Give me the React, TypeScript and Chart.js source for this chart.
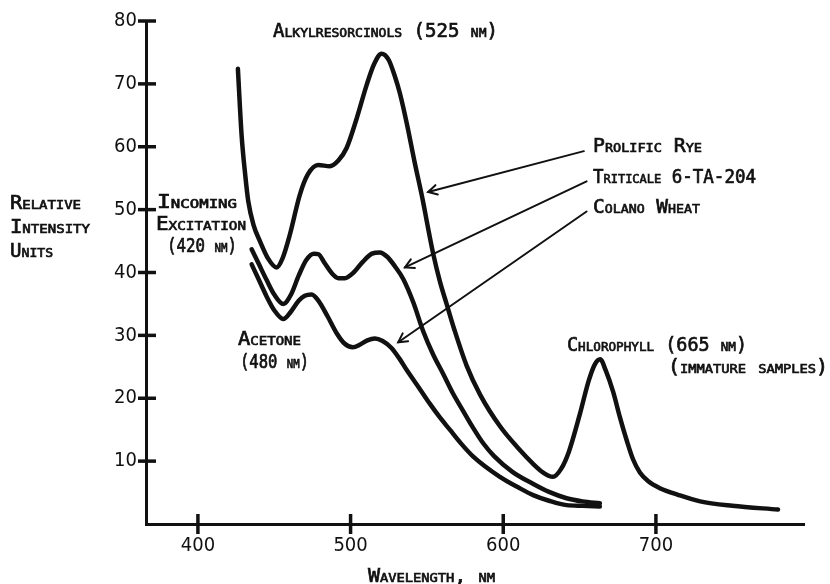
import React, { useEffect, useRef } from "react";
import { Chart, registerables } from "chart.js";

Chart.register(...registerables);

// ---- data ----
const xTickValues = [400, 500, 600, 700];
const yTickValues = [10, 20, 30, 40, 50, 60, 70, 80];

const ryeWavelength = [426.2, 428.6, 431, 433, 436.5, 440.6, 446, 451.5, 455.5, 460.2, 466.8, 472, 478.8, 486.4, 492, 497.4, 504, 510.5, 515.5, 520.3, 525, 529, 532.3, 537, 542, 547.3, 549.8, 554.1, 558.5, 562.9, 568, 576, 585, 598, 610, 619.4, 626, 632.5, 638, 643, 650, 656, 660, 663.5, 667, 672, 676.4, 681, 685, 689.5, 695, 702.6, 715, 729, 750, 780];
const ryeIntensity = [72.4, 61.9, 55.5, 51.3, 47.5, 45, 42.2, 40.8, 42.3, 46, 52.4, 55.6, 57.1, 56.9, 57.8, 59.8, 64.5, 69.8, 73.2, 74.8, 73.8, 71.2, 68.5, 63.5, 57.5, 51.5, 48.3, 43, 38.6, 35, 30.9, 25.2, 20.5, 15.5, 12, 9.6, 8.2, 7.5, 8.8, 11.5, 17.3, 22.8, 25.4, 26.2, 24.5, 21, 17, 13.2, 10.3, 8.2, 6.8, 5.7, 4.6, 3.6, 2.9, 2.3];

const triticaleWavelength = [435.2, 440, 445, 450, 455.9, 461, 466, 471, 476, 479, 483, 488, 492, 496.3, 502, 508, 514, 519.2, 524, 529, 534.4, 541, 547.5, 554, 560.6, 567, 573.7, 580, 587, 594, 606, 619.4, 630, 641.5, 652, 663.3];
const triticaleIntensity = [43.7, 41.3, 38.8, 36.5, 35.0, 36.5, 39.5, 42, 43, 42.9, 41.5, 39.8, 39.1, 39.1, 40, 41.7, 43, 43.2, 42.5, 41, 39, 35.3, 30.7, 27, 23.9, 20.8, 18, 15.4, 12.8, 10.8, 8.3, 6.4, 5.1, 4.1, 3.6, 3.3];

const colanoWavelength = [435.2, 440, 445, 450, 455.9, 461, 466, 470, 474.5, 479, 485, 491, 496, 501.5, 506, 511, 515.9, 521, 526.8, 532, 537, 545, 552, 558, 565, 572, 580, 597.8, 610, 619.6, 630, 641.5, 652, 663.3];
const colanoIntensity = [41.3, 38.8, 36.2, 34, 32.6, 33.8, 35.5, 36.3, 36.5, 35.5, 33, 30.3, 28.7, 28.1, 28.5, 29.2, 29.5, 29.1, 28.0, 26.3, 24.4, 21.6, 19.1, 17.1, 15, 12.9, 10.8, 7.5, 5.8, 4.6, 3.7, 3.0, 2.9, 2.8];

const seriesNames = ["Prolific Rye", "Triticale 6-TA-204", "Colano Wheat"];

// arrows: label-end (data units) -> curve tip (data units)
const arrowFromWavelength = [652.8, 654.6, 654.6];
const arrowFromIntensity = [59.3, 54.5, 49.7];
const arrowToWavelength = [550.8, 535.6, 531.2];
const arrowToIntensity = [52.8, 40.8, 28.9];

// text annotations
const annotationTexts = [
  "Alkylresorcinols (525 nm)",
  "Prolific Rye",
  "Triticale 6-TA-204",
  "Colano Wheat",
  "Incoming",
  "Excitation",
  "(420 nm)",
  "Acetone",
  "(480 nm)",
  "Chlorophyll (665 nm)",
  "(immature samples)",
  "Relative",
  "Intensity",
  "Units",
  "Wavelength, nm",
];
// [left x, baseline y, target width] in canvas pixels
const annotationLayout: [number, number, number][] = [
  [273, 37, 225],
  [593, 152, 109],
  [593, 183, 163],
  [593, 213, 107],
  [157, 208, 80],
  [156, 230, 90],
  [167, 252, 70],
  [238, 345, 63],
  [240, 368, 69],
  [567, 351, 180],
  [668, 373, 160],
  [10, 209, 71],
  [10, 233, 80],
  [10, 257, 43],
  [368, 582, 127],
];

const INK = "#111";
const TEXT_FONT = '"DejaVu Sans Mono", "Liberation Mono", monospace';
const TICK_FONT = '"Liberation Sans Narrow", "DejaVu Sans Condensed", "Liberation Sans", sans-serif';

function drawSmallCaps(ctx: CanvasRenderingContext2D, text: string, x: number, y: number, targetW: number) {
  ctx.save();
  ctx.font = `small-caps 19px ${TEXT_FONT}`;
  try {
    (ctx as any).fontVariantCaps = "small-caps";
  } catch (e) {}
  ctx.textAlign = "left";
  ctx.textBaseline = "alphabetic";
  ctx.fillStyle = INK;
  ctx.strokeStyle = INK;
  ctx.lineWidth = 0.7;
  const w = ctx.measureText(text).width;
  const sx = w > 0 ? targetW / w : 1;
  ctx.translate(x, y);
  ctx.scale(sx, 1);
  ctx.fillText(text, 0, 0);
  ctx.strokeText(text, 0, 0);
  ctx.restore();
}

const decorPlugin = {
  id: "decor",
  afterDraw(chart: any) {
    const ctx: CanvasRenderingContext2D = chart.ctx;
    const xs = chart.scales.x;
    const ys = chart.scales.y;
    const area = chart.chartArea;
    ctx.save();
    ctx.strokeStyle = INK;
    ctx.lineCap = "butt";
    // crossing tick marks
    ctx.lineWidth = 3.5;
    xTickValues.forEach((v) => {
      const px = xs.getPixelForValue(v);
      ctx.beginPath();
      ctx.moveTo(px, area.bottom - 10);
      ctx.lineTo(px, area.bottom + 10);
      ctx.stroke();
    });
    yTickValues.forEach((v) => {
      const py = ys.getPixelForValue(v);
      ctx.beginPath();
      ctx.moveTo(area.left - 8, py);
      ctx.lineTo(area.left + 10, py);
      ctx.stroke();
    });
    // arrows
    ctx.lineWidth = 2;
    ctx.lineCap = "round";
    for (let i = 0; i < arrowFromWavelength.length; i++) {
      const x0 = xs.getPixelForValue(arrowFromWavelength[i]);
      const y0 = ys.getPixelForValue(arrowFromIntensity[i]);
      const x1 = xs.getPixelForValue(arrowToWavelength[i]);
      const y1 = ys.getPixelForValue(arrowToIntensity[i]);
      ctx.beginPath();
      ctx.moveTo(x0, y0);
      ctx.lineTo(x1, y1);
      ctx.stroke();
      const ang = Math.atan2(y0 - y1, x0 - x1);
      const len = 10;
      const spread = 0.5;
      ctx.beginPath();
      ctx.moveTo(x1 + len * Math.cos(ang - spread), y1 + len * Math.sin(ang - spread));
      ctx.lineTo(x1, y1);
      ctx.lineTo(x1 + len * Math.cos(ang + spread), y1 + len * Math.sin(ang + spread));
      ctx.stroke();
    }
    ctx.restore();
    // text
    annotationTexts.forEach((t, i) => {
      const [x, y, w] = annotationLayout[i];
      drawSmallCaps(ctx, t, x, y, w);
    });
  },
};

export default function App() {
  const ref = useRef<HTMLCanvasElement>(null);
  useEffect(() => {
    document.body.style.margin = "0";
    const mk = (wl: number[], v: number[]) => wl.map((w, i) => ({ x: w, y: v[i] }));
    const lineStyle = {
      borderColor: INK,
      borderWidth: 4.5,
      pointRadius: 0,
      fill: false,
      cubicInterpolationMode: "monotone" as const,
      borderCapStyle: "round" as const,
      borderJoinStyle: "round" as const,
    };
    const chart = new Chart(ref.current!, {
      type: "line",
      data: {
        datasets: [
          { label: seriesNames[0], data: mk(ryeWavelength, ryeIntensity), ...lineStyle },
          { label: seriesNames[1], data: mk(triticaleWavelength, triticaleIntensity), ...lineStyle },
          { label: seriesNames[2], data: mk(colanoWavelength, colanoIntensity), ...lineStyle },
        ],
      },
      options: {
        animation: false,
        responsive: false,
        devicePixelRatio: 1,
        layout: { padding: { top: 20, right: 26, left: 0, bottom: 0 } },
        plugins: { legend: { display: false }, tooltip: { enabled: false } },
        scales: {
          x: {
            type: "linear",
            min: 366,
            max: 797,
            afterBuildTicks: (s: any) => {
              s.ticks = xTickValues.map((value) => ({ value }));
            },
            afterFit: (s: any) => {
              s.height = 60;
            },
            grid: { display: false, drawTicks: false },
            border: { display: true, width: 3, color: INK },
            ticks: {
              padding: 10,
              color: INK,
              autoSkip: false,
              maxRotation: 0,
              font: { family: TICK_FONT, size: 20 },
            },
          },
          y: {
            type: "linear",
            min: 0,
            max: 80,
            afterBuildTicks: (s: any) => {
              s.ticks = yTickValues.map((value) => ({ value }));
            },
            afterFit: (s: any) => {
              s.width = 146;
            },
            grid: { display: false, drawTicks: false },
            border: { display: true, width: 3, color: INK },
            ticks: {
              padding: 9,
              color: INK,
              autoSkip: false,
              font: { family: TICK_FONT, size: 20 },
            },
          },
        },
      },
      plugins: [decorPlugin],
    });
    return () => chart.destroy();
  }, []);
  return (
    <div style={{ width: 830, height: 584, background: "#fff" }}>
      <canvas ref={ref} width={830} height={584} style={{ display: "block" }} />
    </div>
  );
}
